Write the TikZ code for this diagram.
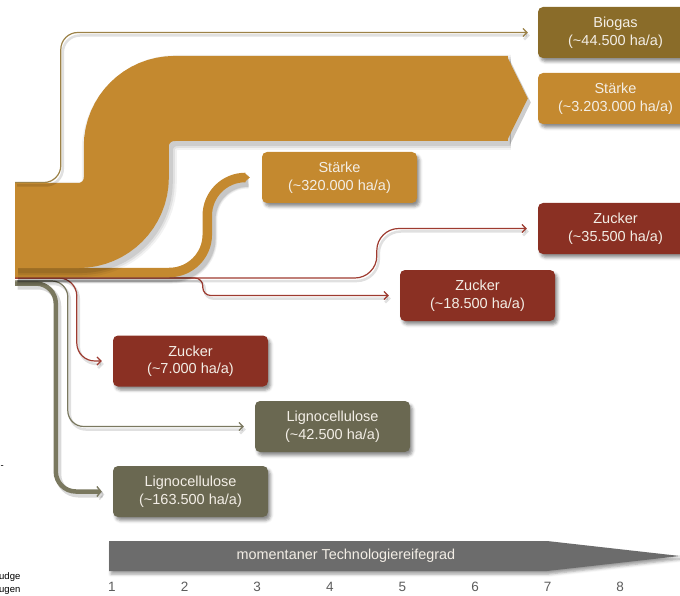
\documentclass[tikz,border=0pt]{standalone}
\usepackage{fontspec}
\setmainfont{Liberation Sans}
\usetikzlibrary{arrows.meta,shadows.blur}
\definecolor{orng}{HTML}{C4892F}
\definecolor{biobox}{HTML}{8A6C29}
\definecolor{bioline}{HTML}{9C8248}
\definecolor{redbox}{HTML}{8A3023}
\definecolor{redline}{HTML}{9E3B30}
\definecolor{ligbox}{HTML}{6A6851}
\definecolor{ligline}{HTML}{7A785F}
\definecolor{barg}{HTML}{6C6C6C}
\definecolor{txtw}{HTML}{F3EEE6}
\definecolor{numg}{HTML}{5C5C5C}
\begin{document}
\begin{tikzpicture}[x=1pt,y=-1pt,
  box/.style={rounded corners=5pt, minimum width=155pt, minimum height=51pt,
    inner sep=0pt, align=center, text=txtw,
    font=\fontsize{14.5}{17.5}\selectfont,
    blur shadow={shadow xshift=2.5pt, shadow yshift=-3.5pt,
      shadow blur radius=3pt, shadow opacity=45}},
  thinflow/.style={line width=1.2pt, shorten >=11pt,
    -{Straight Barb[length=4pt,width=8pt]},
    preaction={draw=black, opacity=0.12, line width=2.5pt,
      transform canvas={xshift=2pt,yshift=-3pt}}},
  bandshadow/.style={black, transform canvas={xshift=3pt,yshift=-4pt}},
  numlbl/.style={text=numg, font=\fontsize{13.5}{16}\selectfont},
  cutlbl/.style={anchor=west, inner sep=0pt, text=black,
    font=\fontsize{9.5}{11}\selectfont}
]
\useasboundingbox (0,0) rectangle (680,596);

% ---- target boxes ----
\node[box, fill=biobox] (biogas) at (615.5,32.5) {Biogas\\(\textasciitilde 44.500 ha/a)};
\node[box, fill=orng] (starkeA) at (615.5,98.5) {Stärke\\(\textasciitilde 3.203.000 ha/a)};
\node[box, fill=orng] (starkeB) at (339.5,177.5) {Stärke\\(\textasciitilde 320.000 ha/a)};
\node[box, fill=redbox] (zuckerA) at (615.5,228.5) {Zucker\\(\textasciitilde 35.500 ha/a)};
\node[box, fill=redbox] (zuckerB) at (477.5,295.5) {Zucker\\(\textasciitilde 18.500 ha/a)};
\node[box, fill=redbox] (zuckerC) at (190.5,361) {Zucker\\(\textasciitilde 7.000 ha/a)};
\node[box, fill=ligbox] (lignoA) at (332.5,426.5) {Lignocellulose\\(\textasciitilde 42.500 ha/a)};
\node[box, fill=ligbox] (lignoB) at (190.5,491.5) {Lignocellulose\\(\textasciitilde 163.500 ha/a)};

% ---- source coordinates ----
\coordinate (bs) at (15,225.5);
\coordinate (bandend) at ([xshift=-30pt]starkeA.west);
\coordinate (tipT) at ([xshift=-31pt,yshift=42.5pt]starkeA.west);
\coordinate (tip) at ([xshift=-10pt]starkeA.west);
\coordinate (tipB) at ([xshift=-31pt,yshift=-42.5pt]starkeA.west);
\coordinate (sb) at (15,272.5);
\coordinate (sbend) at ([xshift=-17pt]starkeB.west);
\coordinate (sbT) at ([xshift=-17.5pt,yshift=4.75pt]starkeB.west);
\coordinate (sbtip) at ([xshift=-12pt]starkeB.west);
\coordinate (sbB) at ([xshift=-17.5pt,yshift=-4.75pt]starkeB.west);
\coordinate (b0) at (15,182.5);
\coordinate (r0) at (15,278);
\coordinate (o0) at (15,281);
\coordinate (o1) at (15,283.5);

% ---- lignocellulose flows ----
\draw[ligline, line width=4.5pt, rounded corners=20, shorten >=11pt,
  -{Straight Barb[length=4pt,width=10pt,line width=1.4pt]},
  preaction={draw=black, opacity=0.15, line width=6pt,
    transform canvas={xshift=2.5pt,yshift=-3pt}}]
  (o1) -| ([xshift=-57pt]lignoB.west) -- (lignoB.west);
\draw[thinflow, ligline, rounded corners=16]
  (o0) -| ([xshift=-187pt]lignoA.west) -- (lignoA.west);

% ---- zucker flows ----
\draw[thinflow, redline, rounded corners=18]
  (r0) -| ([xshift=-36pt]zuckerC.west) -- (zuckerC.west);
\draw[thinflow, redline, rounded corners=8]
  (r0) -| ([xshift=-197pt]zuckerB.west) -- (zuckerB.west);
\draw[thinflow, redline, rounded corners=22]
  (r0) -| ([xshift=-161pt]zuckerA.west) -- (zuckerA.west);

% ---- small starch band ----
\foreach \w/\o in {14/0.06,12/0.08,10.5/0.1}{
  \draw[bandshadow, opacity=\o, line width=\w pt, rounded corners=38]
    (sb) -| ([xshift=-54.5pt]starkeB.west) [rounded corners=24] -- (sbend);
}
\draw[orng, line width=9.5pt, rounded corners=38]
  (sb) -| ([xshift=-54.5pt]starkeB.west) [rounded corners=24] -- (sbend);
\fill[orng] (sbT) -- (sbtip) -- (sbB) -- cycle;

% ---- big starch band ----
\foreach \w/\o in {95/0.05,91/0.07,87/0.09}{
  \draw[bandshadow, opacity=\o, line width=\w pt, rounded corners=48]
    (bs) -| ([xshift=-411.5pt]starkeA.west) -- (bandend);
  \fill[bandshadow, opacity=\o] (tipT) -- (tip) -- (tipB) -- cycle;
}
\draw[orng, line width=85pt, rounded corners=48]
  (bs) -| ([xshift=-411.5pt]starkeA.west) -- (bandend);
\fill[orng] (tipT) -- (tip) -- (tipB) -- cycle;

% ---- biogas flow ----
\draw[thinflow, bioline, shorten >=10pt, rounded corners=17]
  (b0) -| ([xshift=-477pt]biogas.west) -- (biogas.west);

% ---- maturity axis ----
\fill[barg, blur shadow={shadow xshift=2pt, shadow yshift=-3pt,
      shadow blur radius=3pt, shadow opacity=40}]
  (109,541) -- (547,541) -- (680,556) -- (547,571) -- (109,571) -- cycle;
\node[text=txtw, font=\fontsize{14.4}{16}\selectfont] (axislbl) at (346,556)
  {momentaner Technologiereifegrad};
\foreach \i in {1,...,8}{
  \node[numlbl] (n\i) at ({112+72.6*(\i-1)},587) {\i};
}

% ---- cut-off fragments at left edge ----
\node[cutlbl] (frag1) at (0.5,467) {-};
\node[cutlbl] (frag2) at (-1,577) {udge};
\node[cutlbl] (frag3) at (-1,591) {ugen};
\end{tikzpicture}
\end{document}
